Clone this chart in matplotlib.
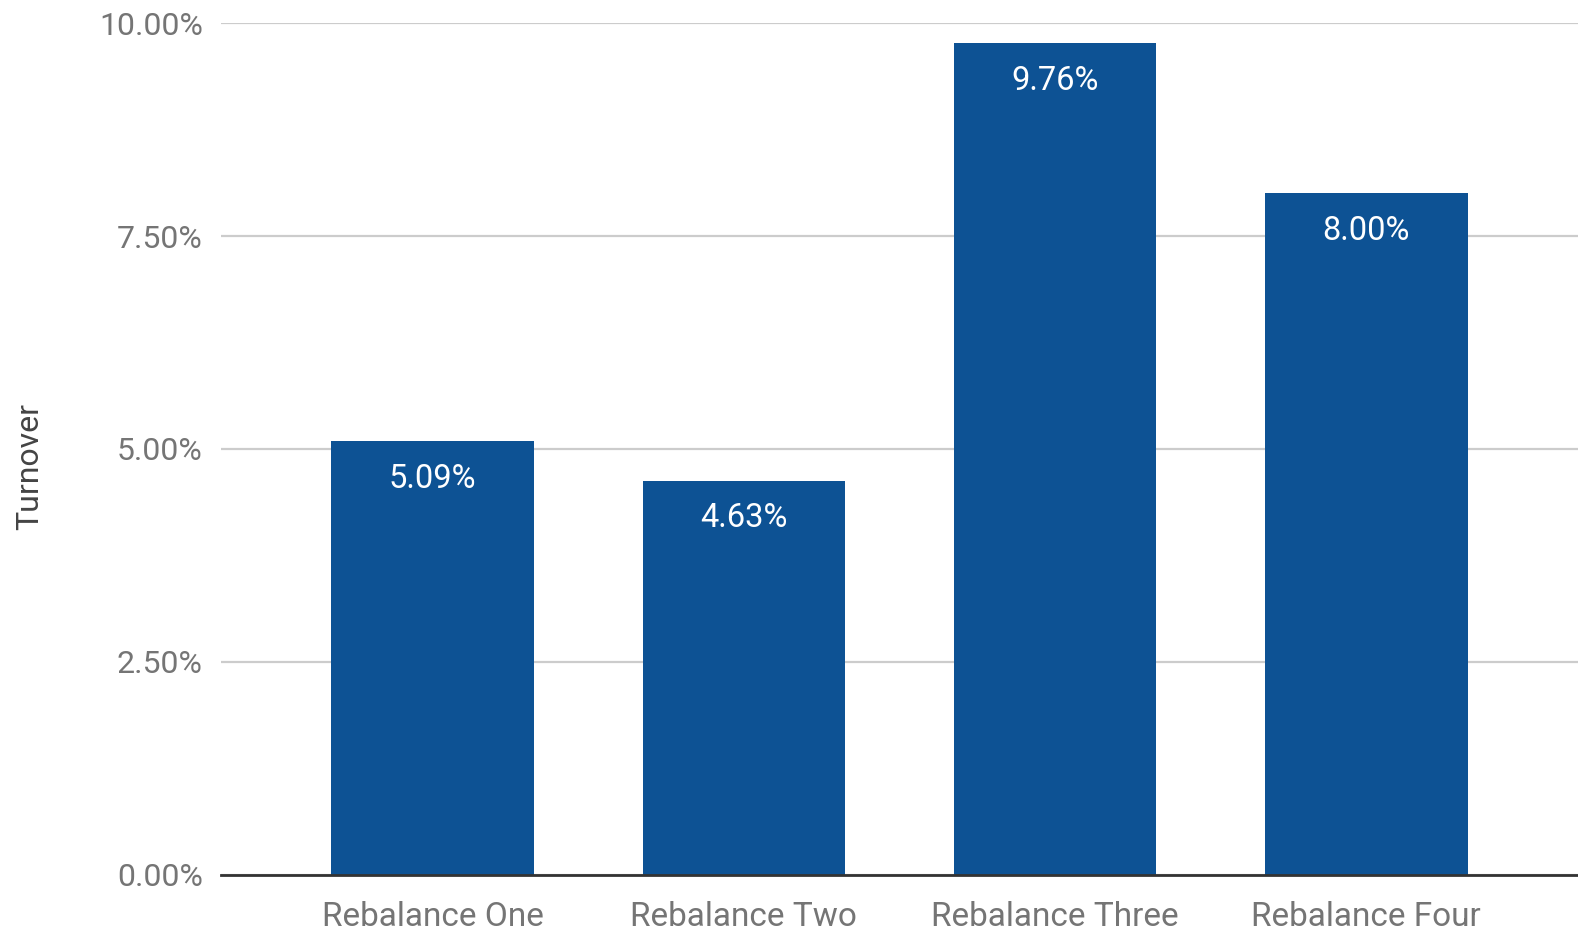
import matplotlib
matplotlib.use("Agg")
import matplotlib.pyplot as plt
from matplotlib.ticker import FuncFormatter

# Turnover per rebalance
categories = ["Rebalance One", "Rebalance Two", "Rebalance Three", "Rebalance Four"]
turnover = [5.09, 4.63, 9.76, 8.00]
y_ticks = [0.0, 2.5, 5.0, 7.5, 10.0]

plt.rcParams["font.family"] = ["Roboto", "DejaVu Sans"]

fig = plt.figure(figsize=(15.78, 9.32), dpi=100)
ax = fig.add_axes([0.140, 0.0612, 0.860, 0.9141])

bar_color = "#0d5294"
x = range(len(categories))
bars = ax.bar(x, turnover, width=0.65, color=bar_color, zorder=3)

for xi, v in zip(x, turnover):
    ax.annotate(f"{v:.2f}%", xy=(xi, v), xytext=(0, -27), textcoords="offset points",
                ha="center", va="center", color="white", fontsize=23.5, zorder=4)

ax.set_xlim(-0.68, 3.68)
ax.set_ylim(0, 10.0)
ax.set_yticks(y_ticks)
ax.yaxis.set_major_formatter(FuncFormatter(lambda v, _: f"{v:.2f}%"))
ax.set_xticks(list(x))
ax.set_xticklabels(categories)

ax.grid(axis="y", color="#cccccc", linewidth=1.6, zorder=0)
ax.grid(axis="x", visible=False)
for side in ["top", "right", "left"]:
    ax.spines[side].set_visible(False)
ax.spines["bottom"].set_color("#333333")
ax.spines["bottom"].set_linewidth(2)
ax.spines["bottom"].set_zorder(5)

ax.tick_params(axis="y", length=0, pad=13, labelsize=23, labelcolor="#757575")
ax.tick_params(axis="x", length=0, pad=19, labelsize=24, labelcolor="#757575")

ax.set_ylabel("Turnover", fontsize=23, color="#444444")
ax.yaxis.set_label_coords(-0.130, 0.479)

fig.savefig("out.png", dpi=100, facecolor="white")
